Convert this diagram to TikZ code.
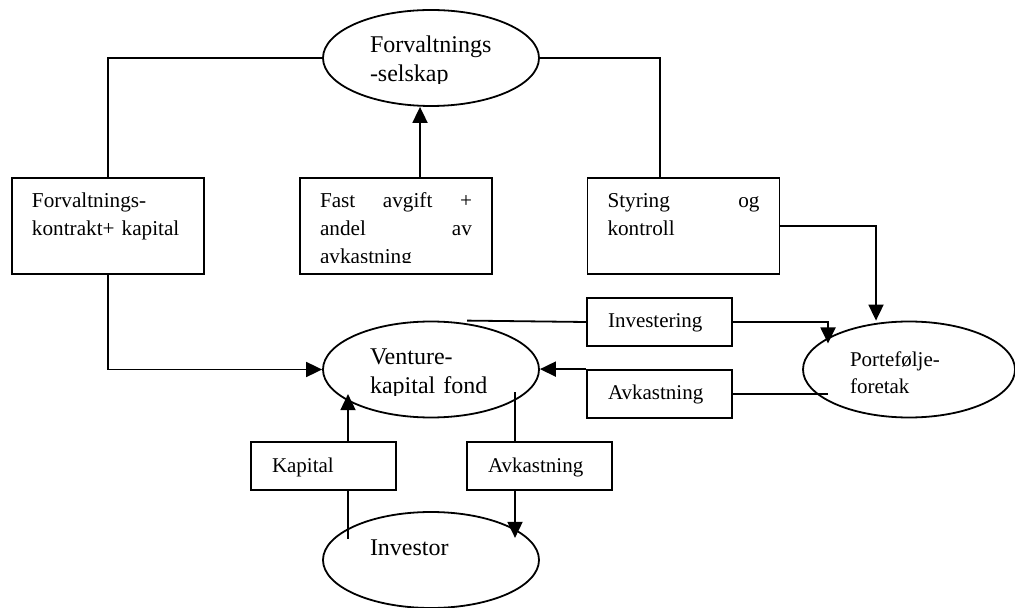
\documentclass[tikz,border=0pt]{standalone}
\usepackage{fontspec}
\setmainfont{Liberation Serif}
\usetikzlibrary{arrows.meta, shapes.geometric, calc}
\tikzset{
    linje/.style={line width=0.9pt},
    pil/.style={line width=0.9pt, -{Triangle[length=8pt, width=7.5pt]}},
    ellips/.style={
        ellipse, draw, line width=0.9pt, inner sep=0pt,
        minimum width=108pt, minimum height=48pt,
        text width=61pt, align=left, text height=10pt, text depth=15pt,
        font={\fontsize{12}{14.3}\selectfont}
    },
    storboks/.style={
        rectangle, draw, line width=0.9pt, inner xsep=10pt, inner ysep=0pt,
        text width=76pt, align=left, text height=15pt, text depth=33pt,
        font={\fontsize{10.6}{13.85}\selectfont}
    },
    liteboks/.style={
        rectangle, draw, line width=0.9pt, inner xsep=10.5pt, inner ysep=0pt,
        text width=51.5pt, align=left, text height=15pt, text depth=9pt,
        font={\fontsize{10.5}{13}\selectfont}
    }
}

\begin{document}
\begin{tikzpicture}[x=0.5pt, y=-0.5pt]
    \useasboundingbox (0,0) rectangle (1015,608);

    % Ellipser
    \node[ellips] (fs) at (431,58) {};
    \node[ellips] (vc) at (431,369.5) {};
    \node[ellips] (inv) at (431,560) {Investor};
    \node[ellips, minimum width=106pt, text width=59pt, text depth=13.3pt,
        font={\fontsize{10.5}{13.5}\selectfont}] (pf) at (909,369.5) {Portefølje-\\foretak};

    % Bokser
    \node[storboks] (b1) at (108,226) {Forvaltnings-\\kontrakt+ kapital};
    \node[storboks] (b2) at (396,226) {};
    \node[storboks] (b3) at (683.5,226) {Styring\hfill og\\kontroll};
    \node[liteboks] (binv) at (659.5,322) {Investering};
    \node[liteboks] (bavk1) at (659.5,394) {Avkastning};
    \node[liteboks] (bkap) at (323.5,466) {Kapital};
    \node[liteboks] (bavk2) at (539.5,466) {Avkastning};

    % Tekst som er kuttet nederst
    \begin{scope}
        \clip ($(fs.west)+(0,-60)$) rectangle ($(fs.east)+(0,26)$);
        \node[ellips, draw=none] (fstekst) at (fs.center) {Forvaltnings\\-selskap};
    \end{scope}
    \begin{scope}
        \clip ($(vc.west)+(0,-60)$) rectangle ($(vc.east)+(0,25.5)$);
        \node[ellips, draw=none] (vctekst) at (vc.center) {Venture-\\kapital fond};
    \end{scope}
    \begin{scope}
        \clip (b2.north west) rectangle ($(b2.south east)+(0,-12)$);
        \node[storboks, draw=none] (b2tekst) at (b2.center)
            {Fast\hfill avgift\hfill +\\andel\hfill av\\avkastning};
    \end{scope}

    % Endepunkter inne i ellipsene
    \coordinate (kapopp) at ($(bkap.north)+(24.5,-47)$);
    \coordinate (kapned) at ($(bkap.south)+(24.5,48)$);
    \coordinate (avkopp) at ($(bavk2.north)+(-24.5,-49)$);
    \coordinate (avkned) at ($(bavk2.south)+(-24.5,47)$);
    \coordinate (pfinn) at ($(pf.center)+(-81,-26)$);

    % Forbindelser
    \draw[linje] (fs.west) -| (b1.north);
    \draw[linje] (fs.east) -| ([xshift=-11.75pt]b3.north);
    \draw[pil] ([xshift=12pt]b2.north) -- ([xshift=-5.5pt]fs.south);
    \draw[pil] (b3.east) -| ([xshift=-16.5pt]pf.north);
    \draw[pil] (b1.south) |- (vc.west);
    \draw[linje] ([xshift=18pt]vc.north) -- (binv.west);
    \draw[pil] (binv.east) -| (pfinn);
    \draw[linje] (pfinn |- bavk1.east) -- (bavk1.east);
    \draw[pil] (bavk1.north west) -- (bavk1.north west -| vc.east);
    \draw[linje] (kapned) -- (kapned |- bkap.south);
    \draw[pil] (kapopp |- bkap.north) -- (kapopp);
    \draw[linje] (avkopp) -- (avkopp |- bavk2.north);
    \draw[pil] (avkned |- bavk2.south) -- (avkned);

\end{tikzpicture}
\end{document}
